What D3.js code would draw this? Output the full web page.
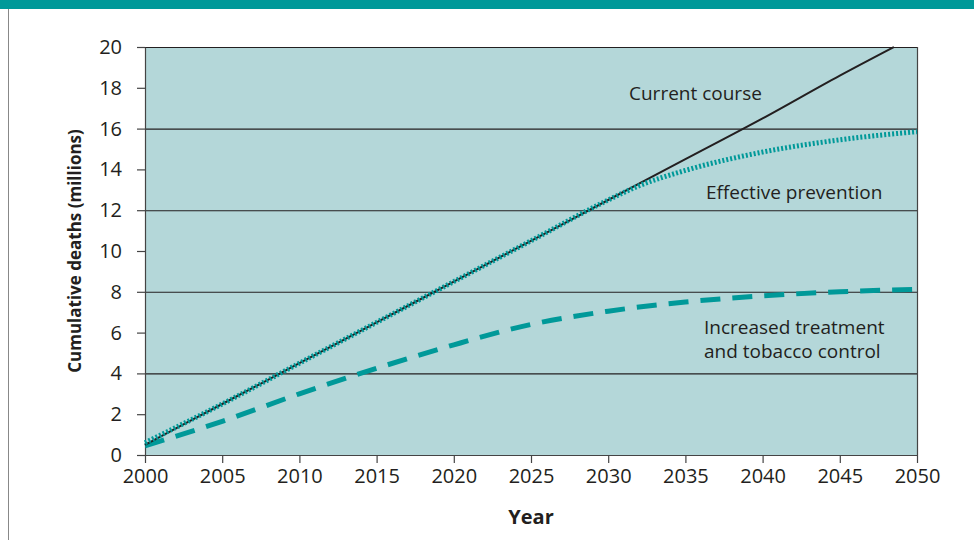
<!DOCTYPE html>
<html>
<head>
<meta charset="utf-8">
<script src="https://cdn.jsdelivr.net/npm/d3@7"></script>
<style>
  body { margin: 0; background: #fff; }
  svg { display: block; font-family: "Open Sans", sans-serif; }
</style>
</head>
<body>
<div id="chart"></div>
<script>
// values
var yTicks = [0, 2, 4, 6, 8, 10, 12, 14, 16, 18, 20];
var xTicks = [2000, 2005, 2010, 2015, 2020, 2025, 2030, 2035, 2040, 2045, 2050];
var gridValues = [4, 8, 12, 16, 20];

var currentYears = [2000, 2005, 2010, 2015, 2020, 2025, 2030, 2035, 2040, 2045, 2048.5];
var currentValues = [0.5, 2.5, 4.5, 6.5, 8.5, 10.5, 12.5, 14.5, 16.5, 18.6, 20];

var preventionYears = [2000, 2005, 2010, 2015, 2020, 2025, 2030, 2032, 2035, 2040, 2045, 2050];
var preventionValues = [0.6, 2.5, 4.5, 6.5, 8.5, 10.5, 12.5, 13.2, 13.95, 14.85, 15.45, 15.85];

var treatmentYears = [2000, 2005, 2010, 2015, 2020, 2025, 2030, 2035, 2040, 2045, 2050];
var treatmentValues = [0.45, 1.65, 3.0, 4.25, 5.4, 6.4, 7.05, 7.5, 7.8, 8.0, 8.12];

var W = 974, H = 540;
var teal = "#009999";
var plotBg = "#b4d7d9";
var ink = "#231f20";
var margin = {top: 47, right: 57, bottom: 85, left: 145};

var svg = d3.select("#chart").append("svg").attr("width", W).attr("height", H);

// banner strip at the top and the frame line on the left
svg.append("rect").attr("x", 0).attr("y", 0).attr("width", W).attr("height", 9).attr("fill", teal);
svg.append("line").attr("x1", 8.5).attr("x2", 8.5).attr("y1", 9).attr("y2", H)
    .attr("stroke", "#888").attr("stroke-width", 1);

var x = d3.scaleLinear().domain([2000, 2050]).range([margin.left, W - margin.right]);
var y = d3.scaleLinear().domain([0, 20]).range([H - margin.bottom, margin.top]);

svg.append("rect")
    .attr("x", x(2000)).attr("y", y(20))
    .attr("width", x(2050) - x(2000)).attr("height", y(0) - y(20))
    .attr("fill", plotBg);

// gridlines
svg.selectAll("line.grid").data(gridValues).enter().append("line")
    .attr("class", "grid")
    .attr("x1", x(2000)).attr("x2", x(2050))
    .attr("y1", function(d) { return y(d) + 0.5; })
    .attr("y2", function(d) { return y(d) + 0.5; })
    .attr("stroke", ink).attr("stroke-width", 1.1);

// right frame
svg.append("line")
    .attr("x1", x(2050) + 0.5).attr("x2", x(2050) + 0.5)
    .attr("y1", y(20)).attr("y2", y(0))
    .attr("stroke", "#444").attr("stroke-width", 1.2);

// axes
var yAxis = svg.append("g")
    .attr("transform", "translate(" + x(2000) + ",0)")
    .call(d3.axisLeft(y).tickValues(yTicks).tickSize(8).tickPadding(15).tickSizeOuter(0));
var xAxis = svg.append("g")
    .attr("transform", "translate(0," + y(0) + ")")
    .call(d3.axisBottom(x).tickValues(xTicks).tickFormat(d3.format("d")).tickSize(8).tickPadding(6).tickSizeOuter(0));

[yAxis, xAxis].forEach(function(a) {
    a.attr("font-size", null).attr("font-family", null);
    a.selectAll("path").attr("stroke", "#444").attr("stroke-width", 1.2);
    a.selectAll("line").attr("stroke", "#444").attr("stroke-width", 1.2);
    a.selectAll("text").attr("fill", ink).style("font-size", "20px");
});
// extend the x axis line under the 0 tick
xAxis.select("path").attr("d", "M" + (x(2000) - 8) + ",0.5H" + x(2050));

var line = d3.line().curve(d3.curveMonotoneX);

function pts(xs, vs) {
    return xs.map(function(d, i) { return [x(d), y(vs[i])]; });
}

svg.append("path")
    .attr("d", line(pts(treatmentYears, treatmentValues)))
    .attr("fill", "none").attr("stroke", teal)
    .attr("stroke-width", 5).attr("stroke-dasharray", "20,12");

svg.append("path")
    .attr("d", line(pts(currentYears, currentValues)))
    .attr("fill", "none").attr("stroke", ink).attr("stroke-width", 2);

svg.append("path")
    .attr("d", line(pts(preventionYears, preventionValues)))
    .attr("fill", "none").attr("stroke", teal)
    .attr("stroke-width", 5).attr("stroke-dasharray", "2,2");

// series labels
var labels = [
    {t: "Current course", x: 629, y: 100},
    {t: "Effective prevention", x: 706, y: 199},
    {t: "Increased treatment", x: 704, y: 334},
    {t: "and tobacco control", x: 704, y: 358}
];
svg.selectAll("text.lab").data(labels).enter().append("text")
    .attr("class", "lab")
    .attr("x", function(d) { return d.x; })
    .attr("y", function(d) { return d.y; })
    .style("font-size", "19px").attr("fill", ink)
    .text(function(d) { return d.t; });

// axis titles
svg.append("text")
    .attr("x", (x(2000) + x(2050)) / 2).attr("y", 524)
    .attr("text-anchor", "middle").style("font-size", "20px").attr("font-weight", "bold")
    .attr("fill", ink).text("Year");

svg.append("text")
    .attr("transform", "translate(81," + (y(10)) + ") rotate(-90)")
    .attr("text-anchor", "middle").style("font-size", "17px").attr("font-weight", "bold")
    .attr("fill", ink).text("Cumulative deaths (millions)");
</script>
</body>
</html>
